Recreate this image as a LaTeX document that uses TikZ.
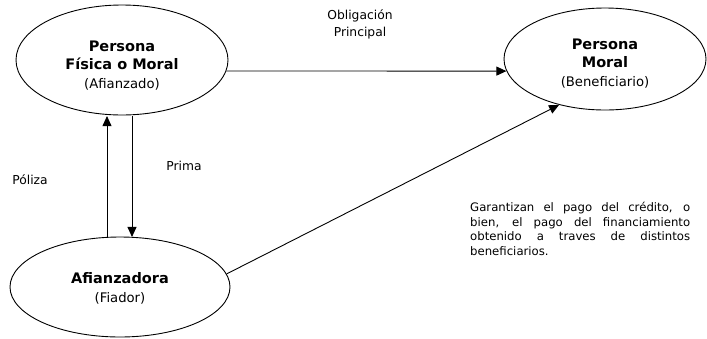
\documentclass[tikz,border=0pt]{standalone}
\usepackage{fontspec}
\setmainfont{DejaVu Sans}
\usetikzlibrary{shapes.geometric,arrows.meta,calc}
\newcommand{\hd}[1]{{\fontsize{14.5}{18.5}\selectfont\textbf{#1}}}
\begin{document}
\begin{tikzpicture}[x=1pt,y=-1pt,
  party/.style={draw, ellipse, line width=0.9pt, inner sep=0pt, align=center,
    font=\fontsize{13.2}{18.5}\selectfont},
  flow/.style={line width=0.9pt, -{Triangle[length=10pt,width=9pt]}},
  tag/.style={font=\fontsize{12.3}{17}\selectfont, align=center, inner sep=0pt}]
\useasboundingbox (0,0) rectangle (707,338);

% parties (the struts push the text block a little below the centre)
\node[party, minimum width=212pt, minimum height=110pt] (fis) at (122,60)
  {\rule{0pt}{21pt}\hd{Persona}\\\hd{Física o Moral}\\(Afianzado)};
\node[party, minimum width=202pt, minimum height=102pt] (mor) at (605,59)
  {\rule{0pt}{19pt}\hd{Persona}\\\hd{Moral}\\(Beneficiario)};
\node[party, minimum width=220pt, minimum height=100pt] (afi) at (120,287)
  {\rule{0pt}{14pt}\hd{Afianzadora}\\(Fiador)};

% connection points on the borders
\coordinate (fisB1) at ($(fis.south)+(-15,0.6)$);
\coordinate (fisB2) at ($(fis.south)+(10,0.3)$);
\coordinate (afiT1) at ($(afi.north)+(-13,0.4)$);
\coordinate (afiT2) at ($(afi.north)+(12,0.4)$);

% flows
\draw[flow] (fis.-6) -- (mor.187);
\draw[flow] (afiT1) -- (fisB1);
\draw[flow] (fisB2) -- (afiT2);
\draw[flow] (afi.7.5) -- (mor.225);

% labels
\node[tag] (obl) at (360,24) {Obligación\\Principal};
\node[tag] (pol) at (30,180) {Póliza};
\node[tag] (pri) at (184,166) {Prima};
\node[anchor=north west, inner sep=0pt, align=left,
  font=\fontsize{11.7}{14.5}\selectfont] (gar) at (470,202)
  {\makebox[220pt][s]{Garantizan el pago del crédito, o}\\
   \makebox[220pt][s]{bien, el pago del financiamiento}\\
   \makebox[220pt][s]{obtenido a traves de distintos}\\
   beneficiarios.};
\end{tikzpicture}
\end{document}
